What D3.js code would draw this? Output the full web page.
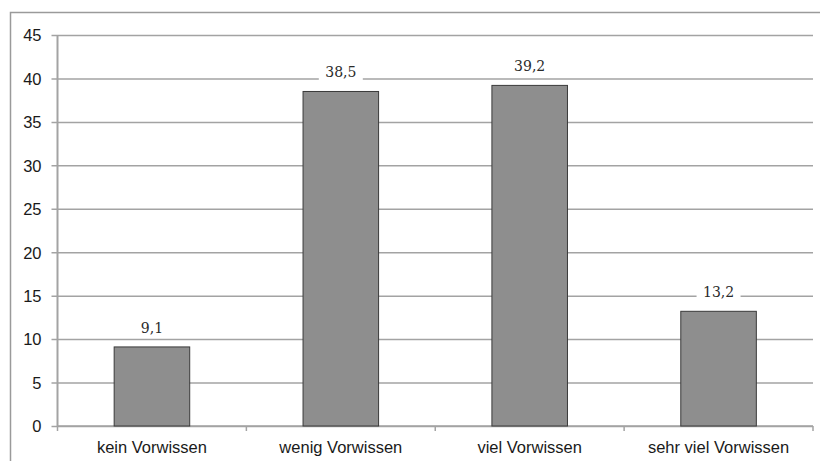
<!DOCTYPE html>
<html>
<head>
<meta charset="utf-8">
<script src="https://cdn.jsdelivr.net/npm/d3@7"></script>
<style>
  html, body { margin: 0; padding: 0; background: #fff; }
  svg { display: block; }
</style>
</head>
<body>
<svg id="chart" width="820" height="461"></svg>
<script>
// Share of respondents by level of prior knowledge (%)
const categories = ["kein Vorwissen", "wenig Vorwissen", "viel Vorwissen", "sehr viel Vorwissen"];
const values = [9.1, 38.5, 39.2, 13.2];
const valueLabels = ["9,1", "38,5", "39,2", "13,2"];
const yTicks = [0, 5, 10, 15, 20, 25, 30, 35, 40, 45];

const svg = d3.select("#chart");
const W = 820, H = 461;
const plot = { left: 57.5, right: 813, top: 35, bottom: 426 };

// outer chart frame (runs off the right and bottom edges)
svg.append("rect")
  .attr("x", 10.5).attr("y", 12.5)
  .attr("width", W).attr("height", H)
  .attr("fill", "none").attr("stroke", "#9a9a9a").attr("stroke-width", 1.5);

const x = d3.scaleBand().domain(categories)
  .range([plot.left, plot.right]).paddingInner(0.6).paddingOuter(0.3);
const y = d3.scaleLinear().domain([0, 45]).range([plot.bottom, plot.top]);

// horizontal gridlines with tick stubs
const yAxis = d3.axisLeft(y).tickValues(yTicks)
  .tickSize(-(plot.right - plot.left)).tickPadding(0).tickFormat(d => d);
const gy = svg.append("g").attr("transform", `translate(${plot.left},0)`).call(yAxis);
gy.select(".domain").remove();
gy.selectAll(".tick line").attr("stroke", "#a3a3a3").attr("stroke-width", 1.5).attr("x1", -6);
gy.selectAll(".tick text")
  .attr("x", -16).attr("dy", "0.35em")
  .attr("fill", "#1a1a1a")
  .style("font-family", "'Liberation Sans', Arial, sans-serif")
  .style("font-size", "16.5px");

// category axis: baseline and tick marks at band edges
const edges = categories.map(c => x(c) - x.step() * x.paddingInner() / 2);
edges.push(plot.right);
svg.append("line")
  .attr("x1", plot.left).attr("x2", plot.right)
  .attr("y1", y(0)).attr("y2", y(0))
  .attr("stroke", "#a3a3a3").attr("stroke-width", 1.5);
svg.selectAll(".xtick").data(edges).join("line")
  .attr("class", "xtick")
  .attr("x1", d => d).attr("x2", d => d)
  .attr("y1", y(0)).attr("y2", y(0) + 5)
  .attr("stroke", "#a3a3a3").attr("stroke-width", 1.5);

// value axis line
svg.append("line")
  .attr("x1", plot.left).attr("x2", plot.left)
  .attr("y1", y(45)).attr("y2", y(0))
  .attr("stroke", "#a3a3a3").attr("stroke-width", 2);

svg.selectAll(".xlabel").data(categories).join("text")
  .attr("class", "xlabel")
  .attr("x", d => x(d) + x.bandwidth() / 2)
  .attr("y", 453)
  .attr("text-anchor", "middle")
  .attr("fill", "#1a1a1a")
  .style("font-family", "'Liberation Sans', Arial, sans-serif")
  .style("font-size", "16.5px")
  .text(d => d);

// bars
svg.selectAll(".bar").data(values).join("rect")
  .attr("class", "bar")
  .attr("x", (d, i) => x(categories[i]))
  .attr("width", x.bandwidth())
  .attr("y", d => y(d))
  .attr("height", d => y(0) - y(d))
  .attr("fill", "#8e8e8e")
  .attr("stroke", "#3a3a3a")
  .attr("stroke-width", 1);

// value labels on white plates
const lg = svg.selectAll(".vlabel").data(values).join("g")
  .attr("class", "vlabel")
  .attr("transform", (d, i) => `translate(${x(categories[i]) + x.bandwidth() / 2},${y(d) - 14})`);
lg.append("rect")
  .attr("x", -22).attr("y", -14).attr("width", 44).attr("height", 18)
  .attr("fill", "#fff");
lg.append("text")
  .attr("text-anchor", "middle")
  .attr("fill", "#2a2a2a")
  .style("font-family", "'DejaVu Serif', serif")
  .style("font-size", "14px")
  .text((d, i) => valueLabels[i]);
</script>
</body>
</html>
